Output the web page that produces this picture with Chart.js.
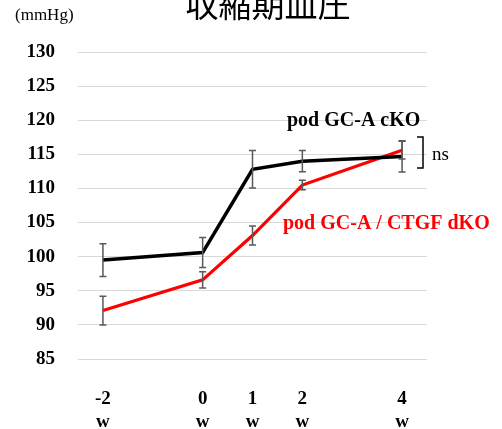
<!DOCTYPE html>
<html>
<head>
<meta charset="utf-8">
<script src="https://cdn.jsdelivr.net/npm/chart.js@4.4.0/dist/chart.umd.min.js"></script>
<style>
  body { margin: 0; background: #fff; }
  #wrap { width: 502px; height: 429px; }
</style>
</head>
<body>
<div id="wrap"><canvas id="myChart"></canvas></div>
<script>
  // weeks
  let weeks = [-2, 0, 1, 2, 4];
  let weekTicks = [-2, 0, 1, 2, 4];
  // pod GC-A cKO
  let ckoMean = [99.5, 100.6, 112.8, 114.0, 114.7];
  let ckoErr = [2.4, 2.2, 2.75, 1.55, 2.3];
  // pod GC-A / CTGF dKO
  let dkoMean = [92.1, 96.6, 103.1, 110.5, 115.6];
  let dkoErr = [2.1, 1.2, 1.4, 0.7, 1.3];
  let yTicks = [85, 90, 95, 100, 105, 110, 115, 120, 125, 130];

  function toPoints(xs, ys) {
    let pts = [];
    for (let i in xs) {
      pts.push({ x: xs[i], y: ys[i] });
    }
    return pts;
  }

  let errorBars = {
    id: 'errorBars',
    afterDatasetsDraw: function(chart) {
      let ctx = chart.ctx;
      let xs = chart.scales.x;
      let ys = chart.scales.y;
      let sets = [[ckoMean, ckoErr], [dkoMean, dkoErr]];
      ctx.save();
      ctx.strokeStyle = '#595959';
      ctx.lineWidth = 1.5;
      for (let s of sets) {
        for (let i in weeks) {
          let px = xs.getPixelForValue(weeks[i]);
          let top = ys.getPixelForValue(s[0][i] + s[1][i]);
          let bot = ys.getPixelForValue(s[0][i] - s[1][i]);
          ctx.beginPath();
          ctx.moveTo(px, top); ctx.lineTo(px, bot);
          ctx.moveTo(px - 3.5, top); ctx.lineTo(px + 3.5, top);
          ctx.moveTo(px - 3.5, bot); ctx.lineTo(px + 3.5, bot);
          ctx.stroke();
        }
      }
      ctx.restore();
    }
  };

  let labels = {
    id: 'labels',
    afterDraw: function(chart) {
      let ctx = chart.ctx;
      ctx.save();
      // title
      ctx.fillStyle = '#000';
      ctx.textAlign = 'center';
      ctx.textBaseline = 'alphabetic';
      ctx.font = '33px "Noto Sans CJK JP"';
      ctx.fillText('収縮期血圧', 268, 17);
      ctx.textBaseline = 'middle';
      // unit
      ctx.textAlign = 'left';
      ctx.font = '17px "Liberation Serif"';
      ctx.fillText('(mmHg)', 15, 16);
      // series names
      ctx.font = 'bold 20px "Liberation Serif"';
      ctx.fillText('pod GC-A cKO', 287, 121);
      ctx.fillStyle = '#ff0000';
      ctx.fillText('pod GC-A / CTGF dKO', 283, 224);
      // ns bracket
      ctx.strokeStyle = '#000';
      ctx.lineWidth = 1.5;
      ctx.beginPath();
      ctx.moveTo(417, 137); ctx.lineTo(423, 137);
      ctx.lineTo(423, 168); ctx.lineTo(417, 168);
      ctx.stroke();
      ctx.fillStyle = '#000';
      ctx.font = '19px "Liberation Serif"';
      ctx.fillText('ns', 432, 155);
      ctx.restore();
    }
  };

  let chartdata = {
    datasets: [{
      label: 'pod GC-A cKO',
      data: toPoints(weeks, ckoMean),
      borderColor: '#000000',
      borderWidth: 3.5,
      pointRadius: 0,
      tension: 0
    }, {
      label: 'pod GC-A / CTGF dKO',
      data: toPoints(weeks, dkoMean),
      borderColor: '#ff0000',
      borderWidth: 3.2,
      pointRadius: 0,
      tension: 0
    }]
  };

  let barGraph = new Chart(document.getElementById('myChart'), {
    type: 'line',
    data: chartdata,
    plugins: [errorBars, labels],
    options: {
      responsive: true,
      maintainAspectRatio: false,
      animation: false,
      layout: { padding: { left: 0, right: 75, top: 52, bottom: 0 } },
      plugins: {
        legend: { display: false },
        tooltip: { enabled: false }
      },
      scales: {
        x: {
          type: 'linear',
          min: -2.5,
          max: 4.5,
          afterBuildTicks: function(scale) {
            scale.ticks = weekTicks.map(function(v) { return { value: v }; });
          },
          afterFit: function(scale) { scale.height = 70; },
          grid: { display: false, drawTicks: false },
          border: { display: false },
          ticks: {
            padding: 29,
            color: '#000',
            maxRotation: 0,
            font: { family: 'Liberation Serif', size: 19, weight: 'bold', lineHeight: '23px' },
            callback: function(value) { return [String(value), 'w']; }
          }
        },
        y: {
          min: 85,
          max: 130,
          afterBuildTicks: function(scale) {
            scale.ticks = yTicks.map(function(v) { return { value: v }; });
          },
          afterFit: function(scale) { scale.width = 78; },
          grid: { color: '#d9d9d9', lineWidth: 1, drawTicks: false },
          border: { display: false },
          ticks: {
            padding: 23,
            color: '#000',
            font: { family: 'Liberation Serif', size: 19, weight: 'bold' }
          }
        }
      }
    }
  });
</script>
</body>
</html>
